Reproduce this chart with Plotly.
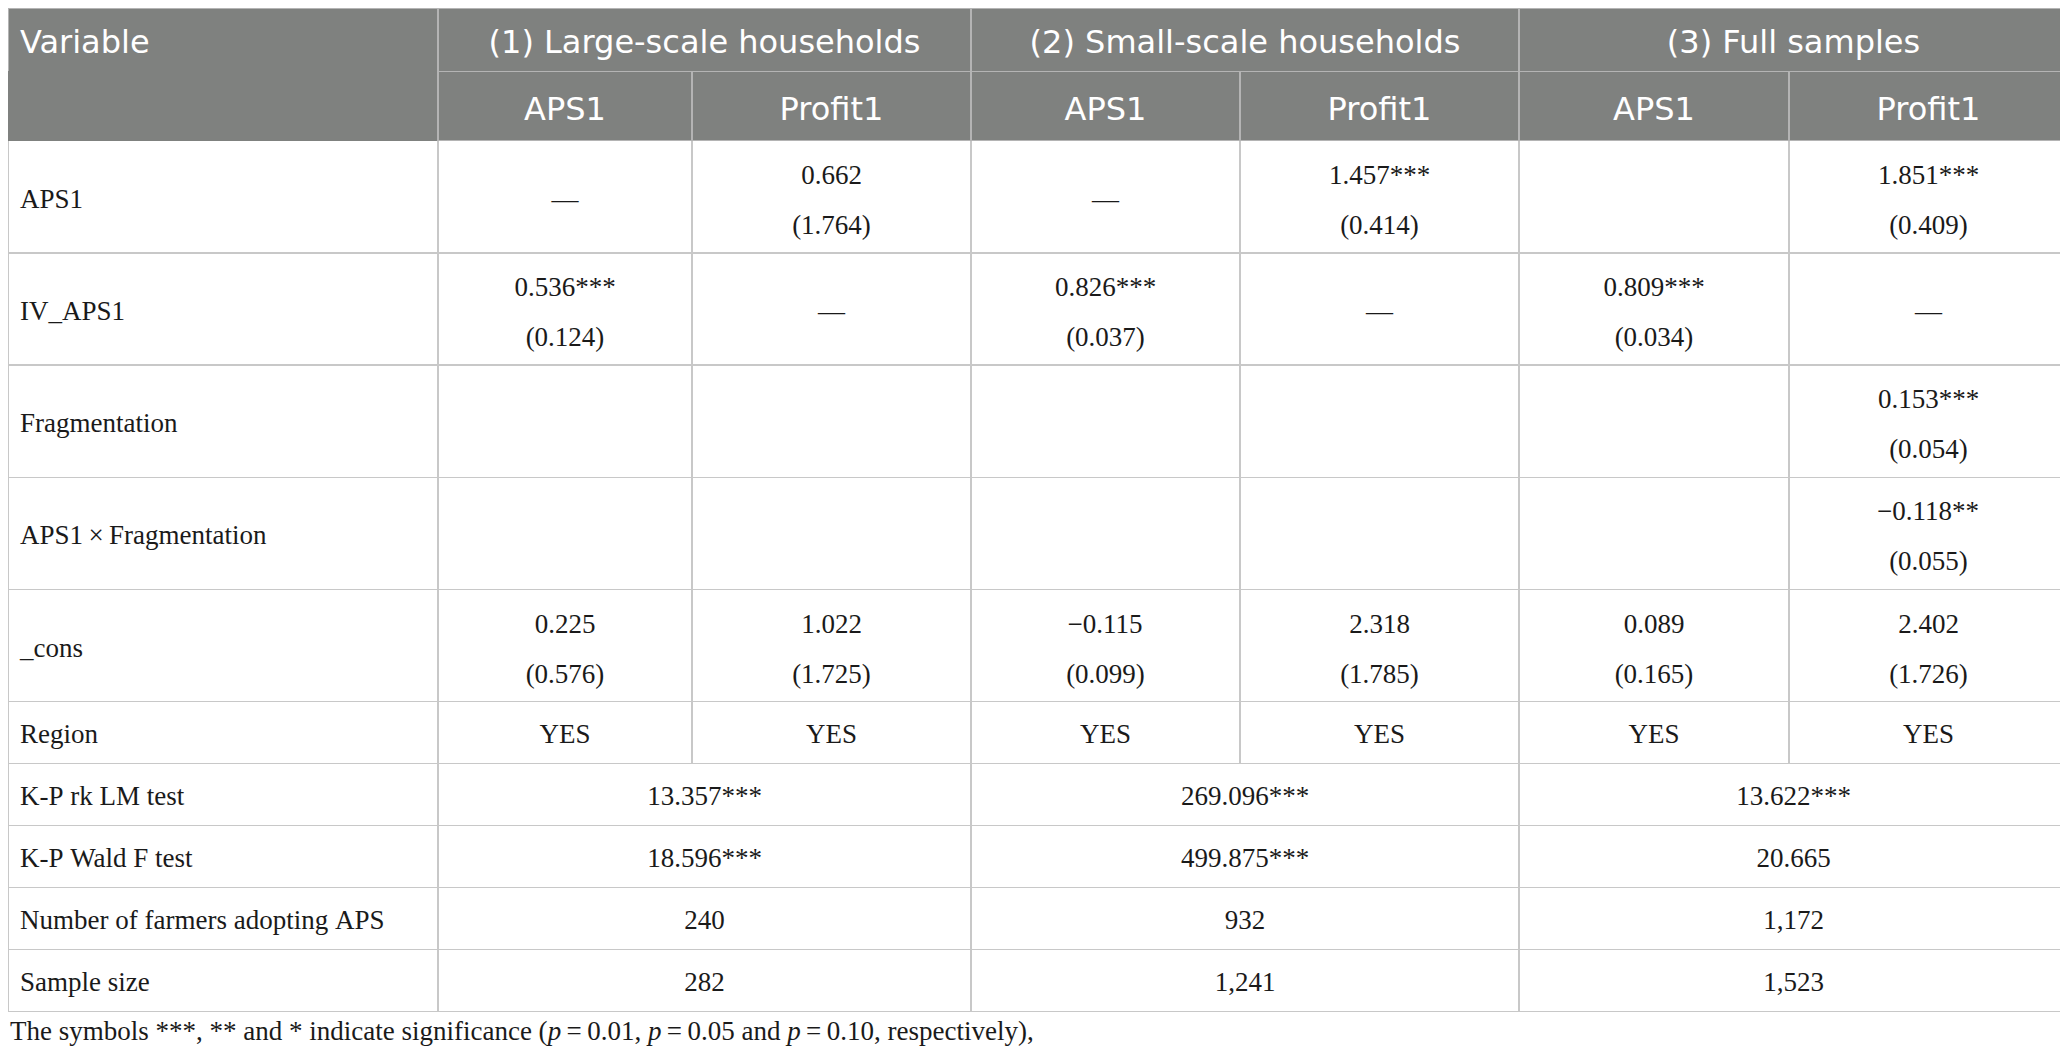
import plotly.graph_objects as go

# table content
groups = ["(1) Large-scale households", "(2) Small-scale households", "(3) Full samples"]
models = ["APS1", "Profit1", "APS1", "Profit1", "APS1", "Profit1"]

coef_rows = ["APS1", "IV_APS1", "Fragmentation", "APS1\u2009×\u2009Fragmentation", "_cons"]
# one list per model column, one entry per coef row
coefs = [
    ["—", "0.536***", "", "", "0.225"],
    ["0.662", "—", "", "", "1.022"],
    ["—", "0.826***", "", "", "\u22120.115"],
    ["1.457***", "—", "", "", "2.318"],
    ["", "0.809***", "", "", "0.089"],
    ["1.851***", "—", "0.153***", "\u22120.118**", "2.402"],
]
std_errs = [
    ["", "(0.124)", "", "", "(0.576)"],
    ["(1.764)", "", "", "", "(1.725)"],
    ["", "(0.037)", "", "", "(0.099)"],
    ["(0.414)", "", "", "", "(1.785)"],
    ["", "(0.034)", "", "", "(0.165)"],
    ["(0.409)", "", "(0.054)", "(0.055)", "(1.726)"],
]
region = ["YES", "YES", "YES", "YES", "YES", "YES"]

test_rows = ["K-P rk LM test", "K-P Wald F test", "Number of farmers adopting APS", "Sample size"]
# one list per group, one entry per test row
test_vals = [
    ["13.357***", "18.596***", "240", "282"],
    ["269.096***", "499.875***", "932", "1,241"],
    ["13.622***", "20.665", "1,172", "1,523"],
]

footnote = ("The symbols ***, ** and * indicate significance (<i>p</i>\u2009=\u20090.01, "
            "<i>p</i>\u2009=\u20090.05 and <i>p</i>\u2009=\u20090.10, respectively),")

# layout (the page adds an 8 px margin, so the figure is 8 px smaller)
W, H = 2060, 1056
HEAD1_H = 63.7
HEAD2_H = 69
COEF_H = 112.2
ROW_H = 62
wide = [430, 533, 548, 549]
narrow = [430, 254, 279, 269, 279, 270, 279]

HEAD_FILL = "#7f817f"
HEAD_LINE = "#b4b4b4"
BODY_LINE = "#c8c8c8"
TEXT = "#1a1a1a"
SANS = "DejaVu Sans"
SERIF = "Liberation Serif"
HEAD_SIZE = 32
BODY_SIZE = 27
LINE_GAP = 50            # distance between the two lines of a coefficient cell
SERIF_ASC = 0.891
SANS_ASC = 0.928
NBSP_EM = 0.25           # width of a no-break space in Liberation Serif

# Liberation Serif advance widths (em) for the characters used in the cells
SERIF_W = {".": 0.25, ",": 0.25, "(": 0.333, ")": 0.333, "*": 0.5,
           "\u2212": 0.564, "—": 1.0}


def text_width(t, px):
    return sum(SERIF_W.get(ch, 0.5) for ch in t) * px


def span(t, px):
    return "<span style='font-size:%.2fpx'>%s</span>" % (px, t)


def pad_for(baseline, asc):
    # invisible glyph that pushes the first baseline down to `baseline`
    return span("\u00a0", (baseline - 8) / asc)


def fill(w):
    # no-break spaces (no taller than body text) adding up to width w
    out = ""
    step = NBSP_EM * BODY_SIZE
    while w > step:
        out += span("\u00a0", BODY_SIZE)
        w -= step
    if w > 0.5:
        out += span("\u00a0", w / NBSP_EM)
    return out


def label_cell(text, baseline, indent=4):
    t = text.replace(" ", "\u00a0")
    return span("\u00a0", indent / NBSP_EM) + span(t, BODY_SIZE) + pad_for(baseline, SERIF_ASC) + "<br>"


def value_cell(text, baseline):
    if not text:
        return ""
    pad = pad_for(baseline, SERIF_ASC)
    return pad + span(text, BODY_SIZE) + pad + "<br>"


def pair_cell(coef, se, baseline):
    # two centred lines: coefficient and standard error
    pad_px = (baseline - 8) / SERIF_ASC
    w1 = text_width(coef, BODY_SIZE) + 2 * NBSP_EM * pad_px
    w2 = text_width(se, BODY_SIZE)
    target = max(w1, w2)
    e1 = fill((target - w1) / 2)
    e2 = fill((target - w2) / 2)
    pad = span("\u00a0", pad_px)
    line1 = e1 + pad + span(coef, BODY_SIZE) + pad + e1
    line2 = e2 + span(se, BODY_SIZE) + e2
    return line1 + "<br>" + line2


def head_cell(text, baseline, label=False):
    pad = pad_for(baseline, SANS_ASC)
    t = text.replace(" ", "\u00a0")
    if label:
        return span("\u00a0", 4 / 0.318) + t + pad + "<br>"
    return pad + t + pad + "<br>"


def dom(y0, h):
    return [max(0, 1 - (y0 + h + 2) / H), 1 - y0 / H]


head_font = dict(family=SANS, size=HEAD_SIZE, color="white")
serif_font = dict(family=SERIF, size=BODY_SIZE, color=TEXT)

fig = go.Figure()

# header row 1 (groups)
fig.add_trace(go.Table(
    domain=dict(x=[0, 1], y=dom(0, HEAD1_H)),
    columnwidth=wide,
    header=dict(values=[head_cell("Variable", 45, True)] + [head_cell(g, 45) for g in groups],
                height=HEAD1_H, fill_color=HEAD_FILL, line=dict(color=HEAD_LINE, width=1.5),
                align=["left", "center", "center", "center"], font=head_font),
    cells=dict(values=[[], [], [], []]),
))

# header row 2 (models) + coefficient rows
y1 = HEAD1_H
label_col = [label_cell(r, 67) for r in coef_rows]
value_cols = []
for cc, ss in zip(coefs, std_errs):
    value_cols.append([pair_cell(c, s, 42.5) if s else value_cell(c, 67) for c, s in zip(cc, ss)])

fig.add_trace(go.Table(
    domain=dict(x=[0, 1], y=dom(y1, HEAD2_H + COEF_H * len(coef_rows))),
    columnwidth=narrow,
    header=dict(values=[""] + [head_cell(m, 48.3) for m in models], height=HEAD2_H,
                fill_color=HEAD_FILL,
                line=dict(color=[HEAD_FILL] + [HEAD_LINE] * 6, width=1.5),
                align=["left"] + ["center"] * 6, font=head_font),
    cells=dict(values=[label_col] + value_cols, height=COEF_H, fill_color="white",
               line=dict(color=BODY_LINE, width=1.5),
               align=["left"] + ["center"] * 6,
               font=dict(family=SERIF, size=LINE_GAP / 1.3, color=TEXT)),
))

# region row
y2 = y1 + HEAD2_H + COEF_H * len(coef_rows)
fig.add_trace(go.Table(
    domain=dict(x=[0, 1], y=dom(y2, ROW_H)),
    columnwidth=narrow,
    header=dict(values=[label_cell("Region", 41)] + [value_cell(v, 41) for v in region],
                height=ROW_H, fill_color="white", line=dict(color=BODY_LINE, width=1.5),
                align=["left"] + ["center"] * 6, font=serif_font),
    cells=dict(values=[[] for _ in range(7)]),
))

# test statistic rows (merged over each group)
y3 = y2 + ROW_H
test_cols = [[label_cell(r, 41.5) for r in test_rows]]
test_cols += [[value_cell(v, 41.5) for v in col] for col in test_vals]
fig.add_trace(go.Table(
    domain=dict(x=[0, 1], y=dom(y3, ROW_H * len(test_rows))),
    columnwidth=wide,
    header=dict(values=[col[0] for col in test_cols], height=ROW_H, fill_color="white",
                line=dict(color=BODY_LINE, width=1.5),
                align=["left", "center", "center", "center"], font=serif_font),
    cells=dict(values=[col[1:] for col in test_cols], height=ROW_H, fill_color="white",
               line=dict(color=BODY_LINE, width=1.5),
               align=["left", "center", "center", "center"], font=serif_font),
))

fig.add_annotation(text=footnote, x=0, y=1 - 1023 / H,
                   xref="paper", yref="paper", xanchor="left", yanchor="middle",
                   showarrow=False, font=dict(family=SERIF, size=BODY_SIZE, color=TEXT))

fig.update_layout(width=W, height=H, margin=dict(l=0, r=0, t=0, b=0),
                  paper_bgcolor="white", plot_bgcolor="white")

fig.write_html("out.html")
